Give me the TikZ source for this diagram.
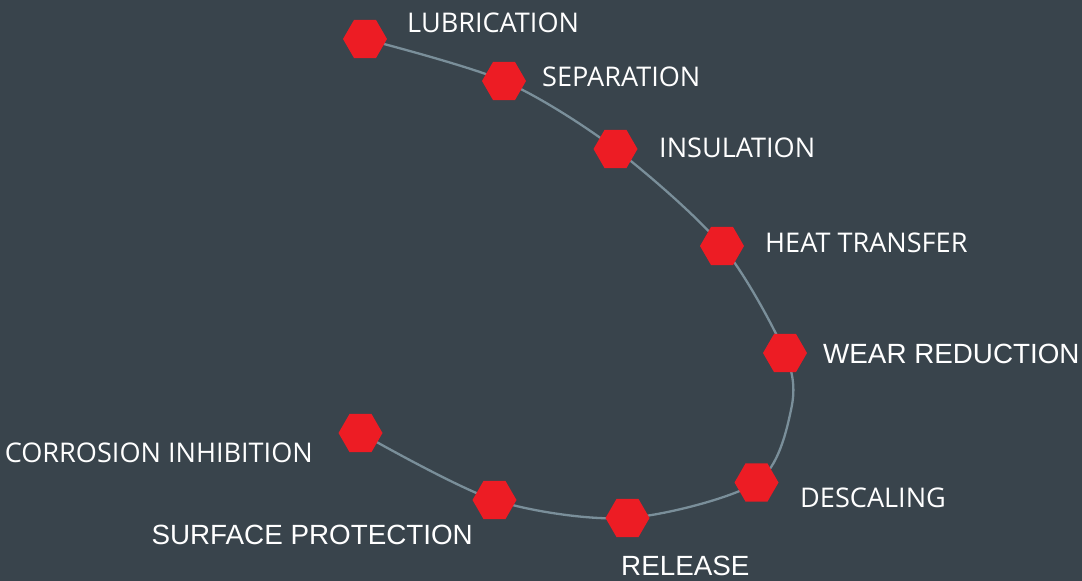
\documentclass[tikz,border=0pt]{standalone}
\usepackage{fontspec}
\setmainfont{Open Sans}
\newfontfamily\arialfont{Liberation Sans}
\usetikzlibrary{shapes.geometric, positioning}
\definecolor{slate}{HTML}{39444C}
\definecolor{hexred}{HTML}{ED1C24}
\definecolor{curvegray}{HTML}{7A8F9A}
\tikzset{
	hexa/.style={regular polygon, regular polygon sides=6, fill=hexred, draw=none, minimum size=44pt, inner sep=0pt},
	lbl/.style={text=white, inner sep=0pt, font=\fontsize{27.1}{30}\selectfont},
	albl/.style={text=white, inner sep=0pt, font=\arialfont\fontsize{27.8}{30}\selectfont},
}

\begin{document}
\begin{tikzpicture}[x=1pt,y=-1pt]
			% Background
			\fill[slate] (0,0) rectangle (1082,581);
			\useasboundingbox (0,0) rectangle (1082,581);
			% Points along the curve
			\coordinate (lub) at (365,39);
			\coordinate (sep) at (504,81);
			\coordinate (ins) at (615.5,149);
			\coordinate (heat) at (722,246);
			\coordinate (wear) at (785,353);
			\coordinate (bend) at (791,410);
			\coordinate (desc) at (756.5,482.5);
			\coordinate (rel) at (627.5,518);
			\coordinate (surf) at (494.5,500);
			\coordinate (corr) at (360.5,433);
			% Curve
			\draw[curvegray, line width=2.3pt] plot[smooth, tension=0.5] coordinates {(lub) (sep) (ins) (heat) (wear) (bend) (desc) (rel) (surf) (corr)};
			% Hexagons
			\foreach \p in {lub, sep, ins, heat, wear, desc, rel, surf, corr} {
					\node[hexa] (\p hex) at (\p) {};
				}
			% Labels
			\node[lbl, anchor=base west] (lubtext) at (407,32) {LUBRICATION};
			\node[lbl, anchor=base west] (septext) at (542,86) {SEPARATION};
			\node[lbl, anchor=base west] (instext) at (659,157) {INSULATION};
			\node[lbl, anchor=base west] (heattext) at (765,252) {HEAT TRANSFER};
			\node[albl, anchor=base west] (weartext) at (823,363) {WEAR REDUCTION};
			\node[lbl, anchor=base west] (desctext) at (800,507) {DESCALING};
			\node[albl, anchor=base west] (reltext) at (621,575) {RELEASE};
			\node[albl, anchor=base east] (surftext) at (473,544) {SURFACE PROTECTION};
			\node[lbl, anchor=base east] (corrtext) at (313,462) {CORROSION INHIBITION};
		\end{tikzpicture}
\end{document}
